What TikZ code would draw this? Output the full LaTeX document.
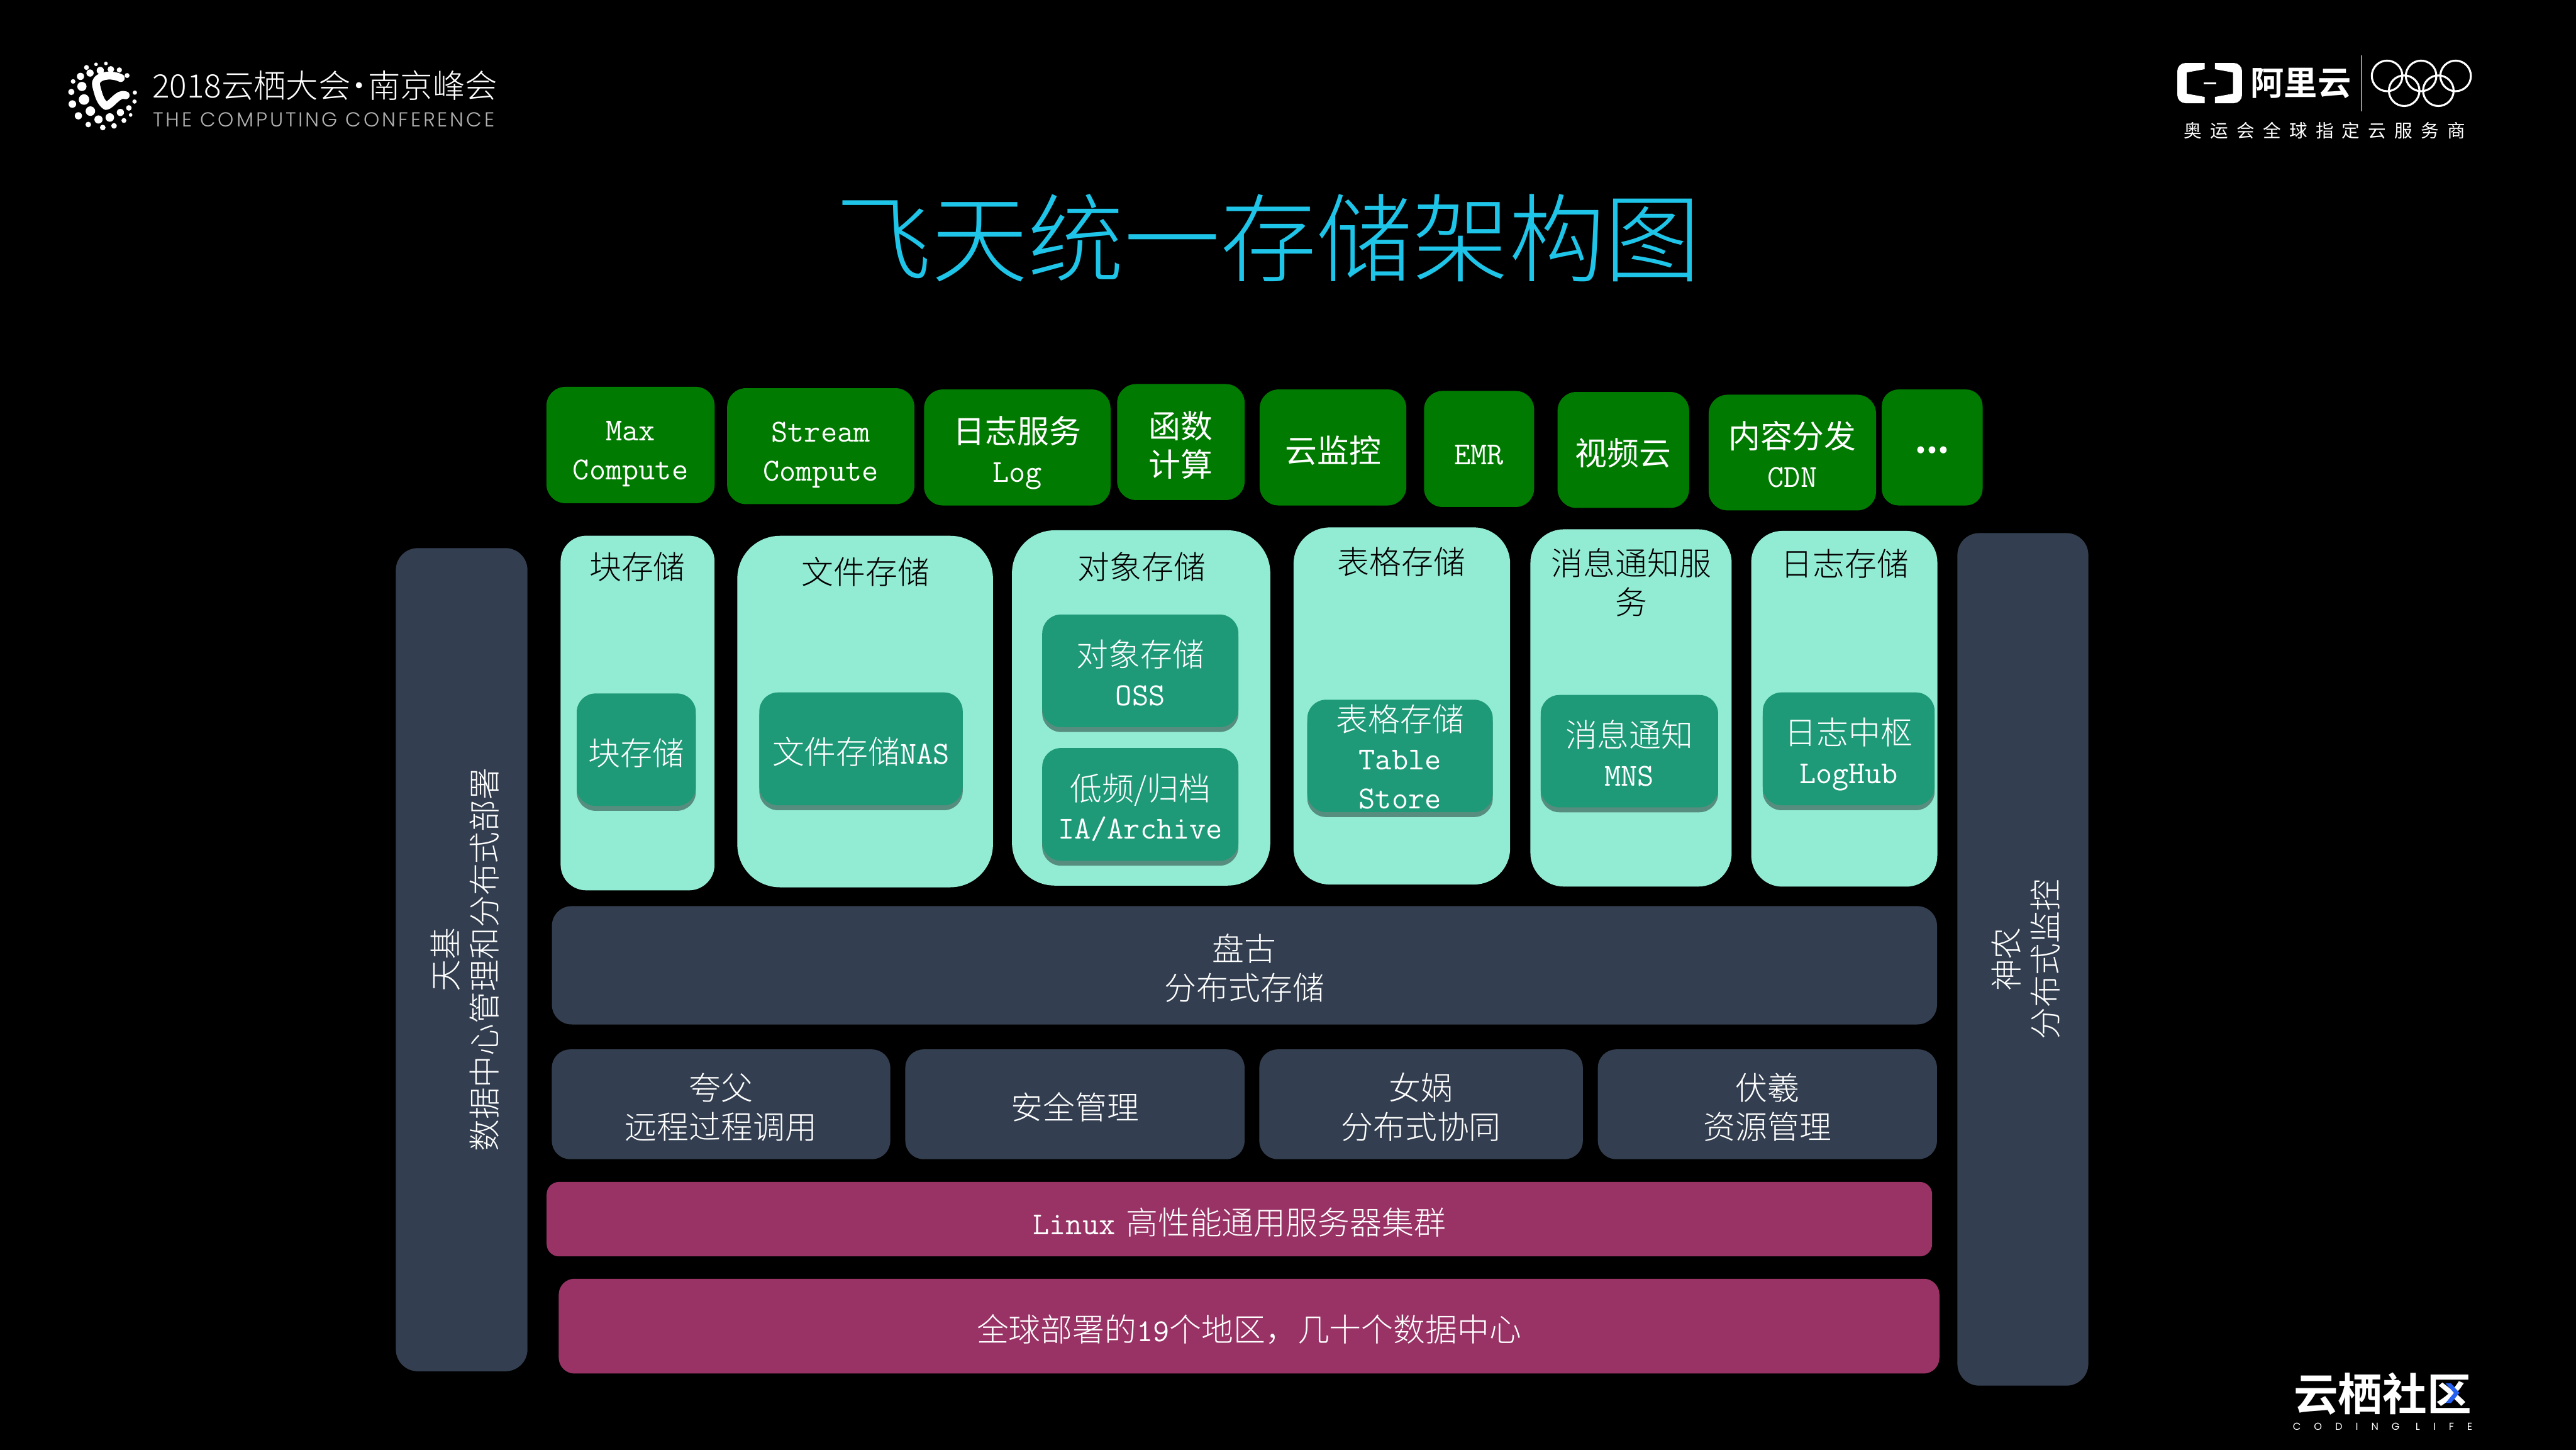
\documentclass[tikz,border=0pt]{standalone}
\usepackage{fontspec}
\usetikzlibrary{shadows}
\setmainfont{Noto Sans CJK SC}[UprightFont=* Light, BoldFont=* Bold]
\newfontfamily\regularcjk{Noto Sans CJK SC}
\newfontfamily\spacedcjk{Noto Sans CJK SC}[LetterSpace=46]
\newfontfamily\confont{Poppins}[UprightFont=* Light, LetterSpace=12]
\newfontfamily\codingfont{Poppins}[LetterSpace=130]
\newcommand{\lat}[1]{{\ttfamily #1}}
\newcommand{\topstrut}{\rule{0pt}{36.5pt}}
\newcommand{\bottomstrut}{\rule[-10pt]{0pt}{10pt}}
\newcommand{\bodysize}{\fontsize{27.7}{33.6}\selectfont}
\definecolor{slidegreen}{RGB}{0,122,0}
\definecolor{mintfill}{RGB}{146,236,211}
\definecolor{tealfill}{RGB}{30,154,120}
\definecolor{slatefill}{RGB}{51,63,80}
\definecolor{plumfill}{RGB}{153,51,102}
\definecolor{titlecyan}{RGB}{30,197,232}
\definecolor{logoblue}{RGB}{38,96,240}
\tikzset{
    sized/.style n args={3}{text width=#1*0.05cm, minimum width=#1*0.05cm, minimum height=#2*0.05cm, rounded corners=#3*0.05cm},
    stackbox/.style={rectangle, inner sep=0pt, align=center, text=white, font=\bodysize,
        execute at begin node=\topstrut, execute at end node=\bottomstrut},
    greenbox/.style={stackbox, fill=slidegreen, font=\regularcjk\bodysize},
    mintbox/.style={rectangle, inner sep=0pt, fill=mintfill},
    tealbox/.style={stackbox, fill=tealfill,
        drop shadow={shadow xshift=0pt, shadow yshift=-1.5mm, opacity=0.4, fill=black}},
    slatebox/.style={stackbox, fill=slatefill},
    plumbox/.style={stackbox, fill=plumfill},
    minttext/.style={inner sep=0pt, align=center, text=black, font=\bodysize},
    tealtext/.style={minttext, text=white},
}

\begin{document}
\begin{tikzpicture}[x=0.05cm, y=-0.05cm]
    \useasboundingbox (0,0) rectangle (1568,882);
    \fill[black] (-5,-5) rectangle (1573,887);

    % top left logo
    \foreach \x/\y/\r in {272/203/1.1, 300/198/1.1, 245/222/1.5, 284/240/2.2, 314/233/2, 338/237/1.6,
        255/255/2.2, 228/275/2.2, 360/270/1.5, 207/305/1.4, 232/335/2.8, 202/368/1.9, 382/372/1.3,
        238/413/3.2, 381/425/1.3, 205/440/2.3, 365/463/1.7, 256/482/2.9, 341/490/2.2, 222/510/2.2,
        370/505/1.1, 311/520/2.6, 279/532/2.5, 351/538/1.5, 250/562/1.7, 323/570/1.7, 291/580/1.7}
        \fill[white] (\x*0.2149, 18.4+\y*0.1021) circle[radius=\r];
    \draw[white, line width=2.4mm, line cap=round, line join=round]
        (73.5,47.5) .. controls (66,44) and (57,47) .. (58.5,52)
        .. controls (60,58) and (61,62) .. (64.5,64.5)
        .. controls (68,64) and (72,56) .. (76.5,58);
    \node[anchor=west, inner sep=0pt, text=white, font=\fontsize{28}{34}\selectfont] (confname) at (92.5,52)
        {2018云栖大会\kern-6.4pt·\kern-6.4pt南京峰会};
    \node[anchor=west, inner sep=0pt, text=white!70!black, font=\confont\fontsize{17.5}{20}\selectfont] (confsub) at (93,72.9)
        {THE COMPUTING CONFERENCE};

    % top right logo
    \fill[white] (1342,38.3) [rounded corners=2.5mm] -- (1325.3,38.3) -- (1325.3,62.8) [sharp corners] -- (1342,62.8)
        -- (1342,59) -- (1331,57) -- (1331,44.1) -- (1342,42.1) -- cycle;
    \fill[white] (1348.2,38.3) [rounded corners=2.5mm] -- (1364.7,38.3) -- (1364.7,62.8) [sharp corners] -- (1348.2,62.8)
        -- (1348.2,59) -- (1359.2,57) -- (1359.2,44.1) -- (1348.2,42.1) -- cycle;
    \fill[white] (1341.2,50) rectangle (1349,51.2);
    \node[inner sep=0pt, text=white, font=\bfseries\fontsize{29}{34}\selectfont] (aliyunname) at (1400.5,50.6) {阿里云};
    \draw[white, line width=0.5pt] (1437.3,33.5) -- (1437.3,67.7);
    \foreach \x/\y in {1453/46.2, 1473.7/46.2, 1494.7/46.2, 1463.4/55.2, 1484.2/55.2}
        \draw[white, line width=0.6mm] (\x,\y) circle[radius=9.3];
    \node[inner sep=0pt, text=white, font=\spacedcjk\fontsize{15.6}{18}\selectfont] (sponsortext) at (1415,79.4)
        {奥运会全球指定云服务商};

    % title
    \node[inner sep=0pt, text=titlecyan, font=\fontsize{83.3}{90}\selectfont] (title) at (772,145)
        {飞天统一存储架构图};

    % product row
    \node[greenbox, sized={102.4}{70.8}{11.5}] (maxcompute) at (383.8,270.8) {\lat{Max}\\\lat{Compute}};
    \node[greenbox, sized={114}{70.6}{11.5}] (streamcompute) at (499.6,271.5) {\lat{Stream}\\\lat{Compute}};
    \node[greenbox, sized={113.5}{70.6}{11.5}] (logservice) at (619.2,272.3) {日志服务\\\lat{Log}};
    \node[greenbox, sized={77.6}{70.6}{11.5}] (funccompute) at (718.8,269) {函数\\计算};
    \node[greenbox, sized={89.3}{70.6}{11.5}] (cloudmonitor) at (811.4,272.3) {云监控};
    \node[greenbox, sized={67}{70.6}{11.2}] (emr) at (900.3,273.2) {\lat{EMR}};
    \node[greenbox, sized={80.1}{70.6}{11.5}] (videocloud) at (988.1,273.8) {视频云};
    \node[greenbox, sized={101.9}{70.4}{11.5}] (cdn) at (1091,275.4) {内容分发\\\lat{CDN}};
    \node[greenbox, sized={61.4}{70.6}{10.2}] (moreproducts) at (1176.1,272.3) {\raisebox{8.5pt}{\bfseries ...}};

    % storage columns
    \node[mintbox, sized={93.7}{215.8}{15.6}] (blockcol) at (388.1,433.9) {};
    \node[mintbox, sized={155.6}{213.9}{26}] (filecol) at (526.6,433) {};
    \node[mintbox, sized={157.2}{216.2}{26}] (objectcol) at (694.6,430.8) {};
    \node[mintbox, sized={131.8}{217.3}{22}] (tablecol) at (853.3,429.6) {};
    \node[mintbox, sized={122.5}{217.4}{20.4}] (mnscol) at (992.8,430.8) {};
    \node[mintbox, sized={113.3}{216.5}{19}] (logcol) at (1122.6,431.3) {};

    \node[minttext] (blocktitle) at (388,345) {块存储};
    \node[minttext] (filetitle) at (527,348) {文件存储};
    \node[minttext] (objecttitle) at (695,345) {对象存储};
    \node[minttext] (tabletitle) at (853,342) {表格存储};
    \node[minttext] (mnstitle) at (993,354.5) {消息通知服\\务};
    \node[minttext] (logtitle) at (1123,343) {日志存储};

    \node[tealbox, sized={72.5}{68.4}{11.4}] (blockitem) at (387.3,456.2) {块存储};
    \node[tealbox, sized={123.8}{68.7}{11.4}] (nasitem) at (524.1,455.7) {文件存储\lat{NAS}};
    \node[tealbox, sized={119.4}{68.5}{11.4}] (ossitem) at (694.1,408.2) {对象存储\\\lat{OSS}};
    \node[tealbox, sized={119.4}{68.6}{11.4}] (archiveitem) at (694.1,489.5) {低频/归档\\\lat{IA/Archive}};
    \node[tealbox, sized={112.9}{68.4}{11.4}] (tableitem) at (852.2,460) {};
    \node[tealtext] (tableitemtext) at (852.2,460.5) {表格存储\\\lat{Table}\\\lat{Store}};
    \node[tealbox, sized={108}{68.4}{11.4}] (mnsitem) at (991.8,457.1) {消息通知\\\lat{MNS}};
    \node[tealbox, sized={104.6}{68.7}{11.4}] (loghubitem) at (1125.3,455.7) {日志中枢\\\lat{LogHub}};

    % side pillars
    \node[slatebox, rotate=90, sized={500.9}{80.1}{13.3}] (tianji) at (281,584) {天基\\数据中心管理和分布式部署};
    \node[slatebox, rotate=90, sized={518.8}{79.7}{13.3}] (shennong) at (1231.3,583.8) {神农\\分布式监控};

    % platform layers
    \node[slatebox, sized={843.1}{72}{12}] (pangu) at (757.5,587.4) {盘古\\分布式存储};
    \node[slatebox, sized={206}{66.8}{11.1}] (kuafu) at (438.9,672) {夸父\\远程过程调用};
    \node[slatebox, sized={206.5}{66.8}{11.1}] (security) at (654.3,672) {安全管理};
    \node[slatebox, sized={196.9}{66.8}{11.1}] (nuwa) at (865,672) {女娲\\分布式协同};
    \node[slatebox, sized={206.4}{66.8}{11.1}] (fuxi) at (1075.8,672) {伏羲\\资源管理};
    \node[plumbox, sized={843.3}{45.3}{7.5}] (linuxlayer) at (754.4,741.9) {\lat{Linux }高性能通用服务器集群};
    \node[plumbox, sized={840.4}{57.7}{9.6}] (regionlayer) at (760.3,807) {全球部署的\lat{19}个地区，几十个数据中心};

    % bottom right logo
    \node[inner sep=0pt, text=white, font=\bfseries\fontsize{38.5}{40}\selectfont] (communityname) at (1450.3,848) {云栖社区};
    \fill[logoblue] (1488.6,841.8) -- (1491.9,841.8) -- (1497,847.6) -- (1491.9,853.8) -- (1488.6,853.8) -- (1493.7,847.6) -- cycle;
    \node[inner sep=0pt, text=white, font=\codingfont\fontsize{8.8}{10}\selectfont] (codinglife) at (1450.3,868.2) {CODING LIFE};
\end{tikzpicture}
\end{document}
